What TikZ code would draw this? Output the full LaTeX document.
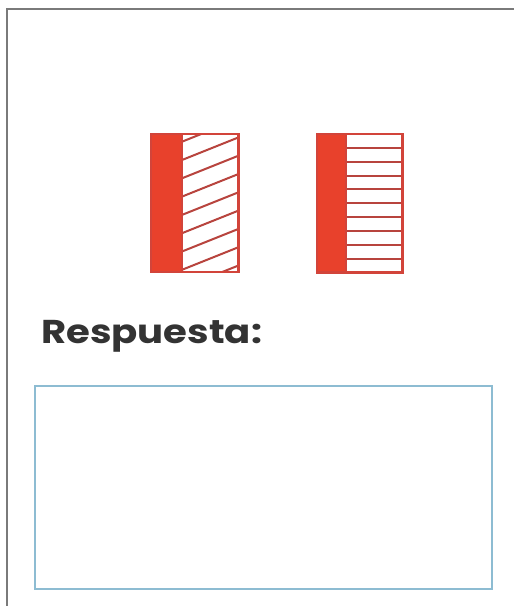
\documentclass[tikz,border=0pt]{standalone}
\usepackage{fontspec}
\setmainfont{Poppins}
\definecolor{framegray}{HTML}{7A7A7A}
\definecolor{redfill}{HTML}{E8412C}
\definecolor{redline}{HTML}{D2443A}
\definecolor{hatchred}{HTML}{B8443E}
\definecolor{boxblue}{HTML}{8DBCD2}
\definecolor{textgray}{HTML}{333333}
\tikzset{
  frameline/.style={draw=framegray, line width=2pt},
  redbar/.style={fill=redfill, draw=none},
  outline/.style={draw=redline, line width=2.2pt},
  hatchline/.style={draw=hatchred, line width=2pt},
  answerbox/.style={draw=boxblue, line width=1.5pt},
}
\begin{document}
\begin{tikzpicture}[x=1pt,y=-1pt]
\useasboundingbox (0,0) rectangle (514,606);
\fill[white] (0,0) rectangle (514,606);
% outer frame (top and left only)
\draw[frameline] (514,9) -- (7,9) -- (7,606);
% first figure: red bar + diagonal hatching
\fill[redbar] (151,134) rectangle (182,272);
\begin{scope}
  \clip (182,134) rectangle (238.5,272);
  \foreach \k in {-1,...,9} {
    \pgfmathsetmacro{\yl}{141.7+18.3*\k}
    \pgfmathsetmacro{\yr}{\yl-22.6}
    \draw[hatchline] (182,\yl) -- (238.5,\yr);
  }
\end{scope}
\draw[outline] (151,134) rectangle (238.5,272);
\draw[outline] (182,134) -- (182,272);
% second figure: red bar + horizontal stripes
\fill[redbar] (317,134) rectangle (346,272.5);
\foreach \k in {1,...,9} {
  \pgfmathsetmacro{\yy}{134+13.85*\k}
  \draw[hatchline] (346,\yy) -- (402.5,\yy);
}
\draw[outline] (317,134) rectangle (402.5,272.5);
\draw[outline] (346,134) -- (346,272.5);
% label
\node[anchor=base west, inner sep=0pt, text=textgray, font=\fontsize{33}{36}\selectfont\bfseries] (resp) at (41,343) {\scalebox{1.17}[1]{Respuesta:}};
% answer box
\draw[answerbox] (35,386) rectangle (492,589);
\end{tikzpicture}
\end{document}
